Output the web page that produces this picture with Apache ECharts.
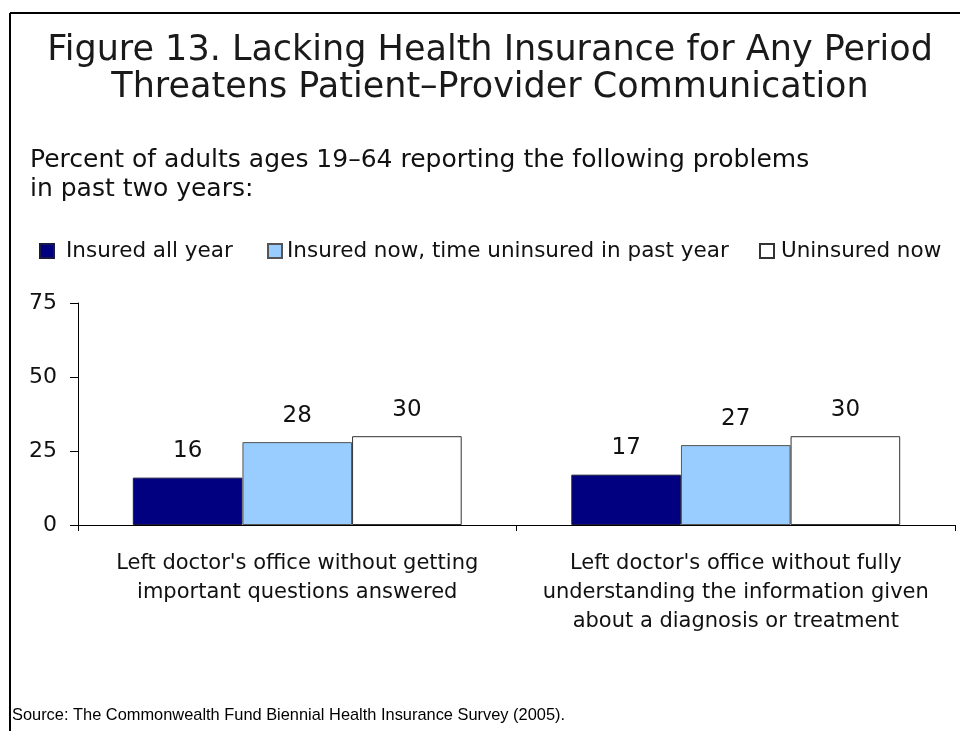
<!DOCTYPE html>
<html>
<head>
<meta charset="utf-8">
<script src="https://cdn.jsdelivr.net/npm/echarts@6/dist/echarts.min.js"></script>
<style>
  html, body { margin: 0; padding: 0; background: #fff; }
  #chart { width: 960px; height: 731px; }
</style>
</head>
<body>
<div id="chart"></div>
<script>
// Problems reported (x-axis categories)
const categories = [
  "Left doctor's office without getting\nimportant questions answered",
  "Left doctor's office without fully\nunderstanding the information given\nabout a diagnosis or treatment"
];

// Insurance status groups
const seriesNames = [
  "Insured all year",
  "Insured now, time uninsured in past year",
  "Uninsured now"
];

// Percent of adults reporting each problem
const insuredAllYear = [16, 17];
const insuredNowGap = [28, 27];
const uninsuredNow = [30, 30];

// Y-axis ticks
const yTicks = [0, 25, 50, 75];

const FONT = "'DejaVu Sans', Verdana, sans-serif";
const fills = ["#000080", "#99CCFF", "#FFFFFF"];
const edges = ["#1a1a40", "#555555", "#333333"];
const values = [insuredAllYear, insuredNowGap, uninsuredNow];

const chart = echarts.init(document.getElementById('chart'), null, { renderer: 'canvas' });

// legend placement and spacing between swatch and label
const legendLefts = [39, 267, 759];
const legendTextPad = [7, 0, 2];

const option = {
  backgroundColor: '#ffffff',
  animation: false,
  title: [
    {
      text: "Figure 13. Lacking Health Insurance for Any Period\nThreatens Patient–Provider Communication",
      left: 490,
      top: 32,
      padding: 0,
      textAlign: 'center',
      textStyle: { fontFamily: FONT, fontSize: 35, fontWeight: 'normal', color: '#1a1a1a', lineHeight: 37 }
    },
    {
      text: "Percent of adults ages 19–64 reporting the following problems\nin past two years:",
      left: 30,
      top: 146,
      padding: 0,
      textStyle: { fontFamily: FONT, fontSize: 25, fontWeight: 'normal', color: '#111', lineHeight: 29 }
    },
    {
      text: "Source: The Commonwealth Fund Biennial Health Insurance Survey (2005).",
      left: 12,
      top: 707,
      padding: 0,
      textStyle: { fontFamily: "'Liberation Sans', Arial, sans-serif", fontSize: 16.4, fontWeight: 'normal', color: '#000' }
    }
  ],
  legend: seriesNames.map((name, i) => ({
    data: [name],
    left: legendLefts[i],
    top: 240,
    padding: 0,
    itemWidth: 14,
    itemHeight: 14,
    icon: 'rect',
    selectedMode: false,
    textStyle: { fontFamily: FONT, fontSize: 21.5, color: '#111', padding: [0, 0, 0, legendTextPad[i]] }
  })),
  grid: { left: 78, right: 5, top: 303, bottom: 206, containLabel: false },
  xAxis: {
    type: 'category',
    data: categories,
    axisLine: { lineStyle: { color: '#000', width: 1 } },
    axisTick: { show: true, alignWithLabel: false, length: 6, lineStyle: { color: '#000' } },
    axisLabel: { fontFamily: FONT, fontSize: 21, color: '#111', lineHeight: 29, margin: 24, interval: 0 }
  },
  yAxis: {
    type: 'value',
    min: yTicks[0],
    max: yTicks[yTicks.length - 1],
    interval: yTicks[1] - yTicks[0],
    splitLine: { show: false },
    axisLine: { show: true, lineStyle: { color: '#000', width: 1 } },
    axisTick: { show: true, length: 8, lineStyle: { color: '#000' } },
    axisLabel: { fontFamily: FONT, fontSize: 22, color: '#111', margin: 21 }
  },
  series: seriesNames.map((name, i) => ({
    name: name,
    type: 'bar',
    data: values[i],
    barGap: '0%',
    barCategoryGap: '25%',
    itemStyle: { color: fills[i], borderColor: edges[i], borderWidth: 1 },
    label: {
      show: true,
      position: 'top',
      distance: 15,
      fontFamily: FONT,
      fontSize: 23,
      color: '#111'
    }
  })),
  graphic: [
    { type: 'line', shape: { x1: 10, y1: 13, x2: 960, y2: 13 }, style: { stroke: '#000', lineWidth: 2 } },
    { type: 'line', shape: { x1: 10, y1: 13, x2: 10, y2: 731 }, style: { stroke: '#000', lineWidth: 2 } }
  ]
};

chart.setOption(option);
</script>
</body>
</html>
